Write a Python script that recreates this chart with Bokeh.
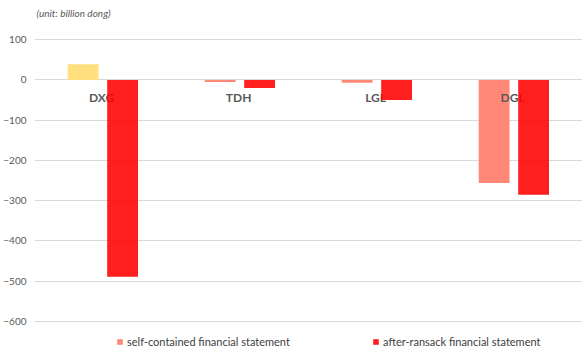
from bokeh.plotting import figure
from bokeh.models import (ColumnDataSource, FactorRange, Range1d, FixedTicker,
                          Legend, LegendItem, Label)
from bokeh.transform import dodge
from bokeh.core.properties import value
from bokeh.embed import file_html
from bokeh.resources import INLINE

companies = ["DXG", "TDH", "LGL", "DGL"]
self_contained = [39, -5, -7, -256]
after_ransack = [-489, -20, -50, -285]
y_ticks = [100, 0, -100, -200, -300, -400, -500, -600]
series_names = ["self-contained financial statement", "after-ransack financial statement"]
unit_label = "(unit: billion dong)"

FONT = "Lato"
GRAY = "#595959"

src = ColumnDataSource(dict(
    cat=companies,
    self_v=self_contained,
    after_v=after_ransack,
    self_color=["#FFE07C" if v > 0 else "#FF8878" for v in self_contained],
))

p = figure(width=588, height=356, output_backend="svg", toolbar_location=None,
           x_range=FactorRange(factors=companies, range_padding=0),
           y_range=Range1d(-687, 197.5),
           min_border_left=32, min_border_right=6, min_border_top=0, min_border_bottom=0)
p.outline_line_color = None
p.background_fill_color = "white"
p.border_fill_color = "white"

r_self = p.vbar(x=dodge("cat", -0.145, range=p.x_range), top="self_v", bottom=0,
                width=0.225, source=src, fill_color="self_color", line_color=None)

p.text(x=dodge("cat", -0.01, range=p.x_range), y=-43.5, text="cat", source=src,
       text_align="center", text_baseline="middle", text_font=value(FONT),
       text_font_size="12px", text_font_style="bold", text_color=GRAY)

r_after = p.vbar(x=dodge("cat", 0.143, range=p.x_range), top="after_v", bottom=0,
                 width=0.225, source=src, fill_color="#FF0000", fill_alpha=0.88,
                 line_color=None)

p.xaxis.visible = False
p.xgrid.grid_line_color = None
p.yaxis.ticker = FixedTicker(ticks=y_ticks)
p.ygrid.ticker = FixedTicker(ticks=y_ticks)
p.ygrid.grid_line_color = "#D9D9D9"
p.ygrid.grid_line_width = 1
p.yaxis.axis_line_color = None
p.yaxis.major_tick_line_color = None
p.yaxis.minor_tick_line_color = None
p.yaxis.major_tick_out = 0
p.yaxis.major_label_standoff = 8
p.yaxis.major_label_text_font = FONT
p.yaxis.major_label_text_font_size = "10px"
p.yaxis.major_label_text_color = GRAY

p.add_layout(Label(x=2, y=344, x_units="screen", y_units="screen", text=unit_label,
                   text_font=FONT, text_font_size="10px", text_font_style="italic",
                   text_color=GRAY, text_baseline="middle"))

legend = Legend(items=[LegendItem(label=series_names[0], renderers=[r_self], index=1),
                       LegendItem(label=series_names[1], renderers=[r_after])],
                orientation="horizontal", location=(82, 8),
                glyph_width=7, glyph_height=7, label_standoff=4, label_width=240,
                spacing=5, padding=0, margin=0, border_line_color=None,
                background_fill_alpha=0, label_text_font=FONT,
                label_text_font_size="11px", label_text_color="#404040",
                label_height=12)
p.add_layout(legend, "center")

open("out.html", "w").write(file_html(p, INLINE))
